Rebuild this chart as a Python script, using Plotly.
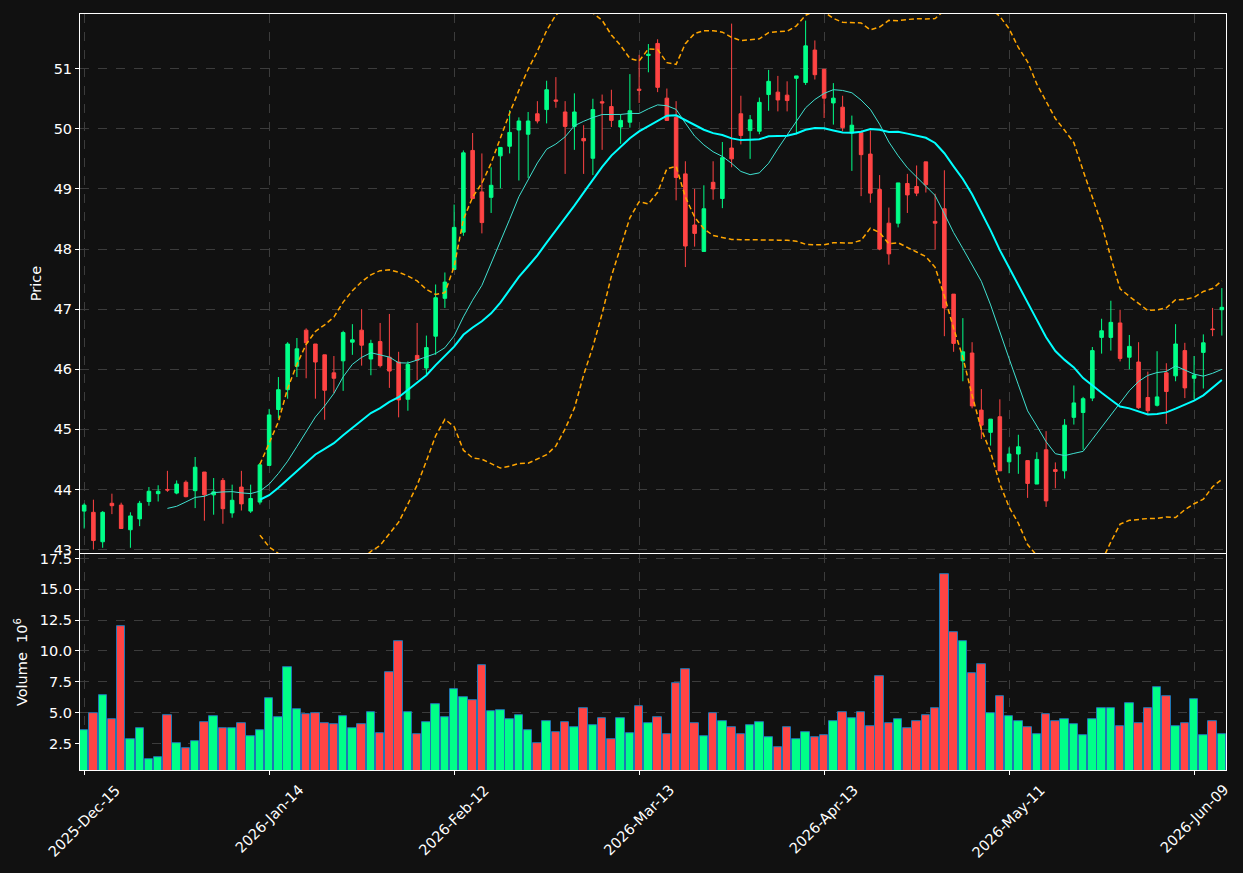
import numpy as np
import pandas as pd
import plotly.graph_objects as go

# ---------------- data ----------------
tick_pos = [0, 20, 40, 60, 80, 100, 120]
tick_labels = ["2025-Dec-15", "2026-Jan-14", "2026-Feb-12", "2026-Mar-13",
               "2026-Apr-13", "2026-May-11", "2026-Jun-09"]

open_ = [43.64, 43.62, 43.13, 43.77, 43.74, 43.33, 43.51, 43.80, 43.93, 44.00,
         43.94, 44.12, 43.98, 44.29, 43.91, 44.15, 43.61, 44.04, 43.64, 43.79,
         44.40, 45.33, 45.66, 46.05, 46.65, 46.42, 46.24, 45.94, 46.14, 46.45,
         46.65, 46.17, 46.46, 46.20, 46.12, 45.50, 46.23, 46.02, 46.55, 47.18,
         47.66, 48.28, 49.64, 48.95, 48.86, 49.55, 49.71, 49.98, 49.91, 50.25,
         50.32, 50.48, 50.28, 50.04, 49.84, 49.51, 50.45, 50.37, 50.03, 50.11,
         50.66, 51.22, 51.42, 50.51, 50.19, 49.25, 48.40, 47.96, 49.11, 48.84,
         49.68, 50.25, 49.97, 49.96, 50.57, 50.61, 50.56, 50.84, 50.77, 51.31,
         50.99, 50.43, 50.36, 49.93, 49.94, 49.58, 48.99, 48.43, 48.43, 49.09,
         49.04, 49.45, 48.46, 48.67, 47.25, 46.14, 46.27, 45.32, 44.95, 45.21,
         44.46, 44.59, 44.48, 44.09, 44.66, 44.33, 44.31, 45.20, 45.28, 45.52,
         46.53, 46.53, 46.77, 46.20, 46.12, 45.53, 45.40, 45.94, 45.89, 46.31,
         45.85, 46.28, 46.67, 46.99]
high = [43.77, 43.83, 43.64, 43.93, 43.78, 43.62, 43.81, 44.04, 44.07, 44.31,
        44.15, 44.15, 44.54, 44.29, 44.19, 44.19, 44.08, 44.31, 44.08, 44.44,
        45.34, 45.87, 46.45, 46.52, 46.68, 46.42, 46.24, 46.22, 46.64, 46.75,
        47.00, 46.49, 46.77, 46.92, 46.29, 46.13, 46.77, 46.56, 47.41, 47.61,
        48.74, 49.64, 49.93, 49.59, 49.36, 49.69, 50.31, 50.19, 50.28, 50.46,
        50.80, 50.86, 50.46, 50.59, 50.06, 50.50, 50.57, 50.65, 50.24, 50.91,
        51.23, 51.41, 51.49, 50.67, 50.46, 49.46, 49.00, 49.06, 49.46, 49.78,
        51.75, 50.55, 50.23, 50.52, 50.98, 50.88, 50.79, 50.88, 51.80, 51.47,
        50.99, 50.76, 50.55, 50.22, 49.97, 49.97, 49.23, 48.69, 49.10, 49.25,
        49.39, 49.45, 48.92, 49.31, 47.25, 46.85, 46.45, 45.67, 45.17, 45.50,
        44.70, 44.91, 44.48, 44.62, 44.97, 44.45, 45.17, 45.73, 45.54, 46.37,
        46.84, 47.14, 46.99, 46.57, 46.45, 45.96, 46.30, 46.10, 46.75, 46.44,
        46.22, 46.58, 47.02, 47.35]
low = [43.35, 43.00, 43.03, 43.59, 43.35, 43.03, 43.39, 43.73, 43.80, 43.96,
       43.92, 43.87, 43.69, 43.48, 43.58, 43.43, 43.53, 43.65, 43.61, 43.75,
       44.40, 45.18, 45.51, 45.87, 45.85, 45.51, 45.16, 45.60, 45.64, 46.24,
       46.06, 45.90, 46.03, 45.69, 45.20, 45.31, 45.82, 45.91, 46.24, 47.02,
       47.66, 48.22, 48.84, 48.26, 48.60, 49.01, 49.59, 49.14, 49.18, 50.09,
       50.09, 50.35, 49.25, 49.65, 49.25, 49.23, 49.65, 50.03, 49.75, 50.02,
       50.43, 50.94, 50.61, 50.14, 48.81, 47.70, 48.04, 47.96, 48.82, 48.68,
       49.36, 49.74, 49.50, 49.91, 50.30, 50.29, 50.29, 49.91, 50.73, 50.82,
       50.18, 50.07, 49.96, 49.30, 48.88, 48.77, 47.98, 47.74, 48.36, 48.60,
       48.88, 48.94, 47.99, 46.55, 46.29, 45.80, 45.35, 44.84, 44.73, 44.31,
       44.27, 44.26, 43.86, 44.09, 43.71, 44.02, 44.18, 45.08, 44.66, 45.47,
       46.26, 46.31, 46.13, 46.00, 45.34, 45.24, 45.38, 45.09, 45.80, 45.52,
       45.50, 45.68, 46.55, 46.56]
close = [43.74, 43.15, 43.62, 43.73, 43.35, 43.56, 43.77, 43.97, 43.97, 43.99,
         44.09, 43.88, 44.37, 43.91, 43.96, 43.68, 43.82, 43.76, 43.85, 44.41,
         45.24, 45.66, 46.42, 46.34, 46.44, 46.12, 45.65, 45.85, 46.61, 46.49,
         46.40, 46.43, 46.06, 45.97, 45.49, 46.08, 46.15, 46.36, 47.19, 47.45,
         48.36, 49.60, 48.84, 48.44, 49.06, 49.69, 49.94, 50.13, 50.13, 50.13,
         50.65, 50.46, 50.04, 50.28, 49.80, 50.32, 50.43, 50.14, 50.14, 50.30,
         50.64, 51.24, 50.69, 50.14, 49.19, 48.05, 48.26, 48.67, 49.00, 49.52,
         49.50, 49.89, 50.15, 50.44, 50.79, 50.48, 50.47, 50.88, 51.38, 50.90,
         50.51, 50.51, 50.02, 50.06, 49.57, 48.93, 48.00, 47.92, 49.10, 48.90,
         48.93, 49.07, 48.43, 47.02, 46.43, 46.29, 45.39, 45.07, 45.17, 44.31,
         44.59, 44.71, 44.10, 44.50, 43.81, 44.30, 45.07, 45.44, 45.51, 46.31,
         46.64, 46.78, 46.18, 46.38, 45.36, 45.31, 45.54, 45.63, 46.42, 45.69,
         45.90, 46.44, 46.66, 47.03]
volume_m = [3.55, 4.92, 6.45, 4.44, 12.02, 2.88, 3.71, 1.21, 1.42, 4.76,
            2.50, 2.10, 2.66, 4.19, 4.68, 3.71, 3.71, 4.11, 3.06, 3.55,
            6.21, 4.60, 8.71, 5.32, 4.84, 4.92, 4.11, 4.03, 4.68, 3.71,
            4.03, 5.08, 3.31, 8.31, 10.81, 5.00, 3.23, 4.19, 5.65, 4.60,
            6.94, 6.29, 6.05, 8.87, 5.16, 5.24, 4.44, 4.76, 3.55, 2.50,
            4.27, 3.39, 4.19, 3.79, 5.40, 3.95, 4.52, 2.82, 4.52, 3.31,
            5.56, 4.11, 4.60, 3.23, 7.42, 8.55, 4.11, 3.06, 4.92, 4.35,
            3.79, 3.23, 3.95, 4.19, 2.98, 2.18, 3.79, 2.82, 3.39, 2.98,
            3.15, 4.27, 5.08, 4.52, 5.08, 3.87, 7.98, 4.11, 4.44, 3.71,
            4.35, 4.76, 5.40, 16.21, 11.53, 10.81, 8.23, 8.95, 4.92, 6.37,
            4.68, 4.35, 3.79, 3.23, 4.84, 4.27, 4.44, 4.03, 3.15, 4.44,
            5.40, 5.40, 3.87, 5.73, 4.11, 5.40, 7.09, 6.37, 3.87, 4.11,
            6.13, 3.15, 4.35, 3.23]

# ---------------- styles ----------------
UP = "#00ff88"
DOWN = "#ff4444"
BG = "#111111"
GRID = "#3c3c3c"
FONT = "DejaVu Sans"
FS = 14.5

n = len(close)
x = np.arange(n)
cs = pd.Series(close)
ma10 = cs.rolling(10).mean()
ma20 = cs.rolling(20).mean()
sd20 = cs.rolling(20).std()
bb_up = ma20 + 2 * sd20
bb_lo = ma20 - 2 * sd20

vol_colors = [UP if c >= o else DOWN for o, c in zip(open_, close)]

fig = go.Figure()
fig.add_trace(go.Candlestick(
    x=x, open=open_, high=high, low=low, close=close,
    increasing=dict(line=dict(color=UP, width=1), fillcolor=UP),
    decreasing=dict(line=dict(color=DOWN, width=1), fillcolor=DOWN),
    whiskerwidth=0, showlegend=False, xaxis="x", yaxis="y"))
fig.add_trace(go.Scatter(x=x, y=ma10, mode="lines",
                         line=dict(color="#40e0d0", width=1),
                         showlegend=False, xaxis="x", yaxis="y"))
fig.add_trace(go.Scatter(x=x, y=ma20, mode="lines",
                         line=dict(color="#00ffff", width=2),
                         showlegend=False, xaxis="x", yaxis="y"))
for band in (bb_up, bb_lo):
    fig.add_trace(go.Scatter(x=x, y=band, mode="lines",
                             line=dict(color="#ffa500", width=1.5, dash="5px,3px"),
                             showlegend=False, xaxis="x", yaxis="y"))
fig.add_trace(go.Bar(x=x, y=volume_m, width=0.9,
                     marker=dict(color=vol_colors,
                                 line=dict(color="#1f77b4", width=1)),
                     showlegend=False, xaxis="x2", yaxis="y2"))

axis_common = dict(showline=True, linecolor="white", linewidth=1, mirror=True,
                   showgrid=True, gridcolor=GRID, griddash="dash", gridwidth=1,
                   zeroline=False, tickcolor="white", ticklen=4,
                   tickfont=dict(color="white", size=FS, family=FONT))

# rotated date labels, centred on their ticks (as in the reference)
annotations = [dict(x=p, y=0, xref="x2", yref="paper", text=t, showarrow=False,
                    textangle=-45, xanchor="center", yanchor="top", yshift=-9,
                    font=dict(color="white", size=FS, family=FONT))
               for p, t in zip(tick_pos, tick_labels)]

xr = [-0.45, n - 1 + 0.45]
fig.update_layout(
    width=1243, height=873,
    paper_bgcolor=BG, plot_bgcolor=BG,
    margin=dict(l=80, r=17, t=10, b=103),
    boxgap=0.45,
    font=dict(family=FONT, color="white", size=FS),
    annotations=annotations,
    xaxis=dict(domain=[0, 1], anchor="y", range=xr, tickmode="array",
               tickvals=tick_pos, showticklabels=False, ticks="",
               rangeslider=dict(visible=False), **axis_common),
    xaxis2=dict(domain=[0, 1], anchor="y2", range=xr, matches="x",
                tickmode="array", tickvals=tick_pos, showticklabels=False,
                ticks="outside", **axis_common),
    yaxis=dict(domain=[0.2868, 1], anchor="x", range=[42.94, 51.91],
               tickmode="array", tickvals=list(range(43, 52)), ticks="outside",
               title=dict(text="Price", standoff=8,
                          font=dict(color="white", size=FS, family=FONT)),
               **axis_common),
    yaxis2=dict(domain=[0, 0.2855], anchor="x2", range=[0.35, 17.85],
                tickmode="array", tickvals=[2.5, 5, 7.5, 10, 12.5, 15, 17.5],
                ticktext=["2.5", "5.0", "7.5", "10.0", "12.5", "15.0", "17.5"],
                ticks="outside",
                title=dict(text="Volume  10<sup>6</sup>", standoff=8,
                           font=dict(color="white", size=FS, family=FONT)),
                **axis_common),
    bargap=0,
)

fig.write_html("out.html")
